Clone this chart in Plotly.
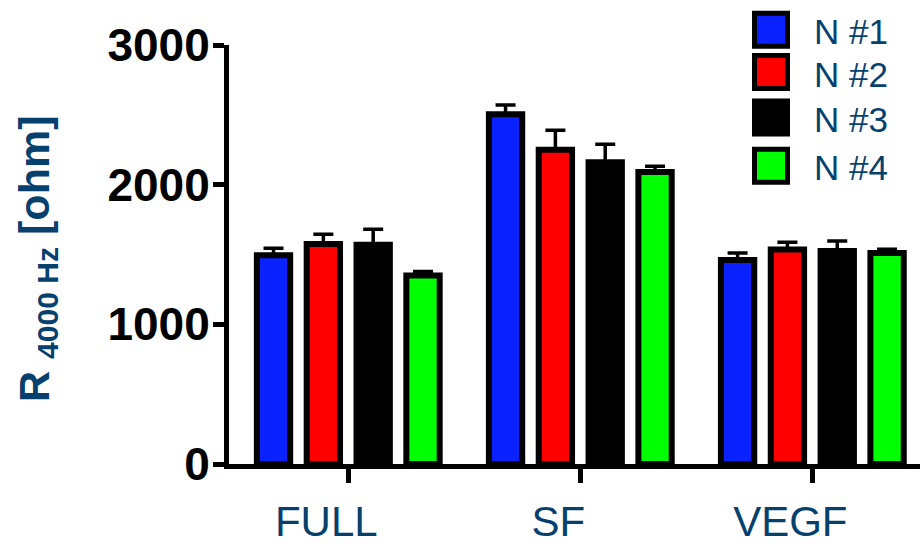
import plotly.graph_objects as go

# Groups and series
categories = ["FULL", "SF", "VEGF"]
series_names = ["N #1", "N #2", "N #3", "N #4"]
series_colors = ["#0a22ff", "#ff0000", "#000000", "#00ff00"]

# Mean resistance at 4000 Hz (ohm), one list per series, ordered as categories
n1_mean = [1495, 2505, 1460]
n2_mean = [1575, 2250, 1535]
n3_mean = [1570, 2160, 1525]
n4_mean = [1350, 2090, 1510]

# Upper error (ohm)
n1_err = [50, 65, 50]
n2_err = [70, 140, 52]
n3_err = [110, 130, 72]
n4_err = [28, 42, 28]

y_ticks = [0, 1000, 2000, 3000]

means = [n1_mean, n2_mean, n3_mean, n4_mean]
errors = [n1_err, n2_err, n3_err, n4_err]

TEXT_BLUE = "#06416e"
FONT = "Liberation Sans, Arial, sans-serif"

W, H = 920, 545
ML, MR, MT, MB = 229, 0, 45, 81
PW, PH = W - ML - MR, H - MT - MB

fig = go.Figure()
x_idx = list(range(len(categories)))
for name, color, m, e in zip(series_names, series_colors, means, errors):
    fig.add_trace(go.Bar(
        x=x_idx, y=m, name=name,
        marker=dict(color=color, line=dict(color="black", width=6)),
        error_y=dict(type="data", array=e, arrayminus=[0] * len(e),
                     symmetric=False, color="black", thickness=3.5, width=10),
        showlegend=False,
    ))

# Legend: swatches and names in the top-right corner
def px_to_paper_x(px):
    return (px - ML) / PW

def px_to_paper_y(py):
    return (MT + PH - py) / PH

sw_x0, sw_x1 = 754.5, 787.5
sw_centers = [29.7, 72.0, 117.5, 165.8]
half = 16.5
for name, color, cy in zip(series_names, series_colors, sw_centers):
    fig.add_shape(type="rect", xref="paper", yref="paper",
                  x0=px_to_paper_x(sw_x0), x1=px_to_paper_x(sw_x1),
                  y0=px_to_paper_y(cy + half), y1=px_to_paper_y(cy - half),
                  fillcolor=color, line=dict(color="black", width=5))
    fig.add_annotation(xref="paper", yref="paper",
                       x=px_to_paper_x(812), y=px_to_paper_y(cy + 2),
                       xanchor="left", yanchor="middle", showarrow=False,
                       text=name, font=dict(family=FONT, size=35, color=TEXT_BLUE))

# Y-axis title
fig.add_annotation(xref="paper", yref="paper",
                   x=px_to_paper_x(37), y=px_to_paper_y(259),
                   xanchor="center", yanchor="middle", showarrow=False,
                   textangle=-90,
                   text="R <sub>4000 Hz</sub> [ohm]",
                   font=dict(family=FONT, size=43, color=TEXT_BLUE, weight="bold"))

fig.update_layout(
    width=W, height=H,
    margin=dict(l=ML, r=MR, t=MT, b=MB, autoexpand=False),
    paper_bgcolor="white", plot_bgcolor="white",
    barmode="group", bargap=0.141, bargroupgap=0.331,
    showlegend=False,
    xaxis=dict(
        range=[-0.514, 2.464], tickvals=x_idx, ticktext=categories,
        showgrid=False, zeroline=False,
        showline=True, linecolor="black", linewidth=5,
        ticks="outside", ticklen=14, tickwidth=5, tickcolor="black",
        ticklabelshift=-22, ticklabelstandoff=3,
        tickfont=dict(family=FONT, size=42, color=TEXT_BLUE),
    ),
    yaxis=dict(
        range=[0, 3000], tickvals=y_ticks,
        showgrid=False, zeroline=False,
        showline=True, linecolor="black", linewidth=5,
        ticks="outside", ticklen=11, tickwidth=5, tickcolor="black",
        ticklabelstandoff=-6,
        tickfont=dict(family=FONT, size=46, color="black", weight="bold"),
    ),
)

fig.write_html("out.html")
